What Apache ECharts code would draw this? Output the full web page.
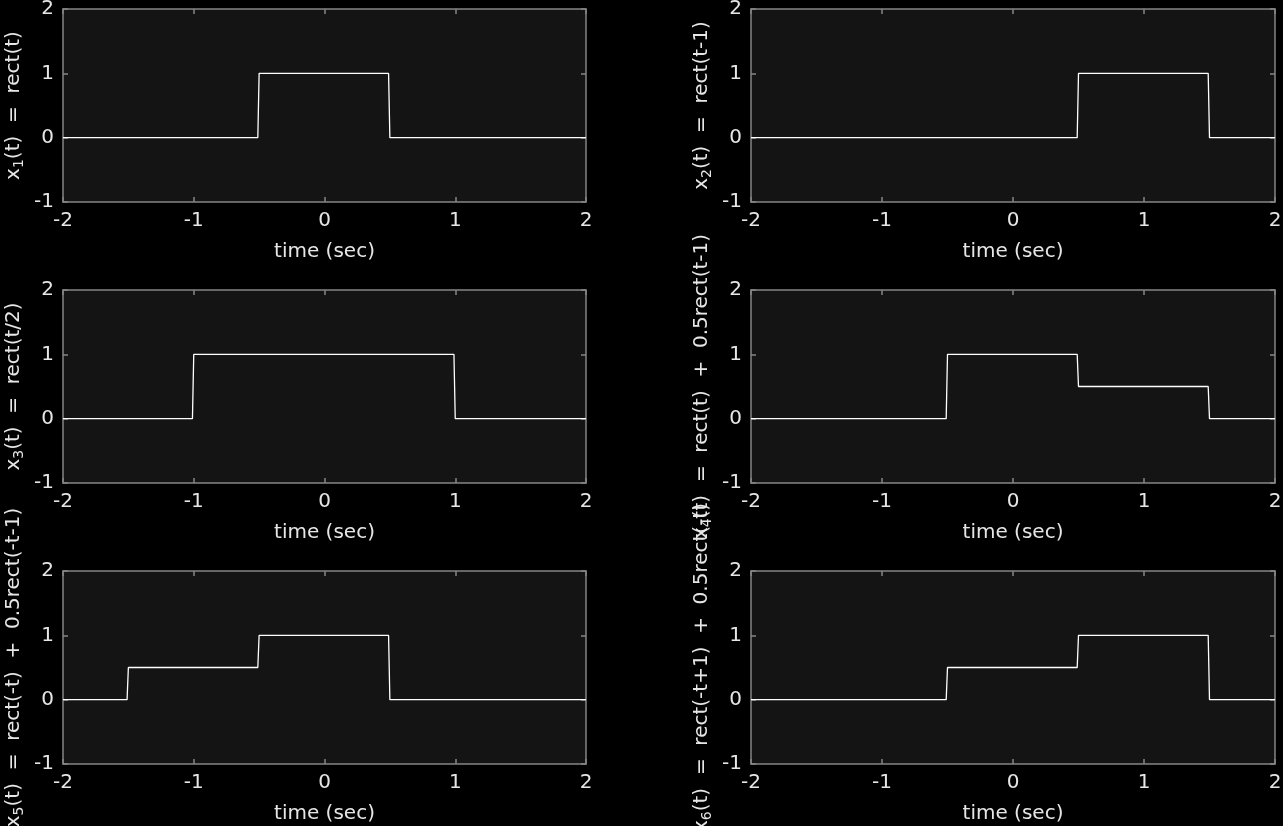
<!DOCTYPE html>
<html>
<head>
<meta charset="utf-8">
<script src="https://cdn.jsdelivr.net/npm/echarts@6/dist/echarts.min.js"></script>
<style>
html,body{margin:0;padding:0;background:#000;}
#c{width:1283px;height:826px;}
</style>
</head>
<body>
<div id="c"></div>
<script>
// Signal data: [time (sec), value]
const x1 = [[-2,0],[-0.51,0],[-0.5,1],[0.49,1],[0.5,0],[2,0]];
const x2 = [[-2,0],[0.49,0],[0.5,1],[1.49,1],[1.5,0],[2,0]];
const x3 = [[-2,0],[-1.01,0],[-1,1],[0.99,1],[1,0],[2,0]];
const x4 = [[-2,0],[-0.51,0],[-0.5,1],[0.49,1],[0.5,0.5],[1.49,0.5],[1.5,0],[2,0]];
const x5 = [[-2,0],[-1.51,0],[-1.5,0.5],[-0.51,0.5],[-0.5,1],[0.49,1],[0.5,0],[2,0]];
const x6 = [[-2,0],[-0.51,0],[-0.5,0.5],[0.49,0.5],[0.5,1],[1.49,1],[1.5,0],[2,0]];
const signals = [x1, x2, x3, x4, x5, x6];
const subscripts = ['1','2','3','4','5','6'];
const formulas = ['rect(t)', 'rect(t-1)', 'rect(t/2)', 'rect(t)  +  0.5rect(t-1)',
                  'rect(-t)  +  0.5rect(-t-1)', 'rect(-t+1)  +  0.5rect(-t)'];
const xTitle = 'time (sec)';
const xMin = -2, xMax = 2, xStep = 1;
const yMin = -1, yMax = 2, yStep = 1;

const FONT = '"DejaVu Sans", "Liberation Sans", Arial, sans-serif';
const FS = 20;
const TXT = '#e6e6e6';
const AX = '#858585';
const lefts = [63, 751];
const widths = [523, 524];
const tops = [9, 290, 571];
const H = 193;

const grid = [], xAxis = [], yAxis = [], series = [];
signals.forEach((data, i) => {
  const col = i % 2, row = Math.floor(i / 2);
  grid.push({left: lefts[col], top: tops[row], width: widths[col], height: H,
    containLabel: false, outerBoundsMode: 'none',
    show: true, backgroundColor: '#141414', borderWidth: 0});
  const tick = {show: true, inside: true, length: 5, lineStyle: {color: AX, width: 1.5}};
  const line = {show: true, onZero: false, lineStyle: {color: AX, width: 1.5}};
  xAxis.push({type: 'value', gridIndex: i, min: xMin, max: xMax, interval: xStep,
    position: 'bottom', axisLine: line, axisTick: tick, splitLine: {show: false},
    axisLabel: {color: TXT, fontSize: FS, fontFamily: FONT, margin: 9},
    name: xTitle, nameLocation: 'middle', nameGap: 40,
    nameTextStyle: {color: TXT, fontSize: FS, fontFamily: FONT}});
  xAxis.push({type: 'value', gridIndex: i, min: xMin, max: xMax, interval: xStep,
    position: 'top', axisLine: line, axisTick: tick, splitLine: {show: false},
    axisLabel: {show: false}});
  yAxis.push({type: 'value', gridIndex: i, min: yMin, max: yMax, interval: yStep,
    position: 'left', axisLine: line, axisTick: tick, splitLine: {show: false},
    axisLabel: {color: TXT, fontSize: FS, fontFamily: FONT, margin: 9},
    name: '{n|x}{s|' + subscripts[i] + '}{n|(t)  =  ' + formulas[i] + '}',
    nameLocation: 'middle', nameRotate: 90, nameGap: 37,
    nameTextStyle: {color: TXT, fontSize: FS, fontFamily: FONT,
      rich: {n: {color: TXT, fontSize: FS, fontFamily: FONT},
             s: {color: TXT, fontSize: 14, fontFamily: FONT, padding: [10, 0, 0, 0]}}}});
  yAxis.push({type: 'value', gridIndex: i, min: yMin, max: yMax, interval: yStep,
    position: 'right', axisLine: line, axisTick: tick, splitLine: {show: false},
    axisLabel: {show: false}});
  series.push({type: 'line', xAxisIndex: 2 * i, yAxisIndex: 2 * i, data: data,
    symbol: 'none', animation: false, lineStyle: {color: '#ffffff', width: 1.3}});
});

const chart = echarts.init(document.getElementById('c'));
chart.setOption({backgroundColor: '#000', animation: false, grid, xAxis, yAxis, series});
</script>
</body>
</html>
